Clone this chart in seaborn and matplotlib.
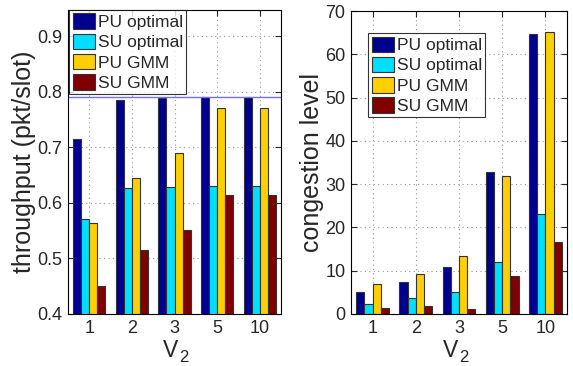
import numpy as np
import pandas as pd
import matplotlib
matplotlib.use("Agg")
import matplotlib.pyplot as plt
import seaborn as sns

categories = ["1", "2", "3", "5", "10"]
series = ["PU optimal", "SU optimal", "PU GMM", "SU GMM"]
colors = ["#00008F", "#00DFFF", "#FFCF00", "#800000"]

thr_pu_opt = [0.714, 0.785, 0.788, 0.790, 0.790]
thr_su_opt = [0.571, 0.627, 0.629, 0.631, 0.631]
thr_pu_gmm = [0.563, 0.645, 0.690, 0.770, 0.770]
thr_su_gmm = [0.451, 0.516, 0.551, 0.615, 0.615]
thr_ref_line = 0.79

cong_pu_opt = [5.0, 7.3, 10.8, 32.8, 64.8]
cong_su_opt = [2.4, 3.6, 5.0, 12.0, 23.0]
cong_pu_gmm = [6.9, 9.3, 13.4, 31.8, 65.1]
cong_su_gmm = [1.5, 1.8, 1.2, 8.7, 16.7]

def long_df(vals):
    rows = []
    for s, v in zip(series, vals):
        for c, y in zip(categories, v):
            rows.append({"V2": c, "series": s, "value": y})
    return pd.DataFrame(rows)

df_thr = long_df([thr_pu_opt, thr_su_opt, thr_pu_gmm, thr_su_gmm])
df_cong = long_df([cong_pu_opt, cong_su_opt, cong_pu_gmm, cong_su_gmm])

sns.set_theme(style="white")
plt.rcParams['font.family'] = ['Liberation Sans', 'DejaVu Sans']

fig = plt.figure(figsize=(5.73, 3.66), dpi=100)
ax1 = fig.add_axes([68/573, 1-314/366, (281-68)/573, (314-10)/366])
ax2 = fig.add_axes([351/573, 1-314/366, (567-351)/573, (314-11)/366])

PX = 72 / 100  # points per pixel

def draw(ax, df, ylim, yticks, ylabel, ytickfmt, vshift):
    sns.barplot(data=df, x="V2", y="value", hue="series", order=categories,
                hue_order=series, palette=colors, width=0.76, ax=ax,
                edgecolor="#333333", linewidth=0.8, saturation=1, errorbar=None)
    ax.set_ylim(*ylim)
    ax.set_xlim(-0.5, 4.5)
    ax.set_yticks(yticks)
    ax.set_yticklabels([ytickfmt(t) for t in yticks])
    ax.grid(True, axis="both", linestyle=(0, (1, 3)), color="#999999", linewidth=0.8)
    ax.set_axisbelow(True)
    for sp in ax.spines.values():
        sp.set_visible(True)
        sp.set_color("black")
        sp.set_linewidth(0.8)
    ax.tick_params(direction="in", length=4, width=0.8, labelsize=13,
                   top=True, right=True, bottom=True, left=True, pad=4)
    ax.set_xlabel("")
    # x label "V" with a large subscript "2"
    ax.annotate("V", xy=(0.5, 0), xycoords="axes fraction",
                xytext=((vshift - 1.0) * PX, -43 * PX), textcoords="offset points",
                ha="right", va="baseline", fontsize=16.5)
    ax.annotate("2", xy=(0.5, 0), xycoords="axes fraction",
                xytext=(vshift * PX, -48 * PX), textcoords="offset points",
                ha="left", va="baseline", fontsize=12)
    ax.set_ylabel(ylabel, fontsize=18, labelpad=1)
    leg = ax.legend(loc="upper left", fontsize=12.5, frameon=True, fancybox=False,
                    edgecolor="black", handlelength=1.3, handleheight=1.0,
                    handletextpad=0.15, borderpad=0.2, labelspacing=0.2,
                    borderaxespad=0.0)
    leg.get_frame().set_linewidth(0.8)
    return leg

leg1 = draw(ax1, df_thr, (0.4, 0.947), [0.4, 0.5, 0.6, 0.7, 0.8, 0.9],
            "throughput (pkt/slot)", lambda t: f"{t:.1f}", 4.5)
leg1.set_bbox_to_anchor((0.005, 1.0), transform=ax1.transAxes)
ax1.axhline(thr_ref_line, color="#7070FF", linewidth=1.0, zorder=1.5)

leg2 = draw(ax2, df_cong, (0, 70), [0, 10, 20, 30, 40, 50, 60, 70],
            "congestion level", lambda t: f"{int(t)}", 0.0)
leg2.set_bbox_to_anchor((0.079, 0.927), transform=ax2.transAxes)

fig.savefig("out.png", dpi=100)
